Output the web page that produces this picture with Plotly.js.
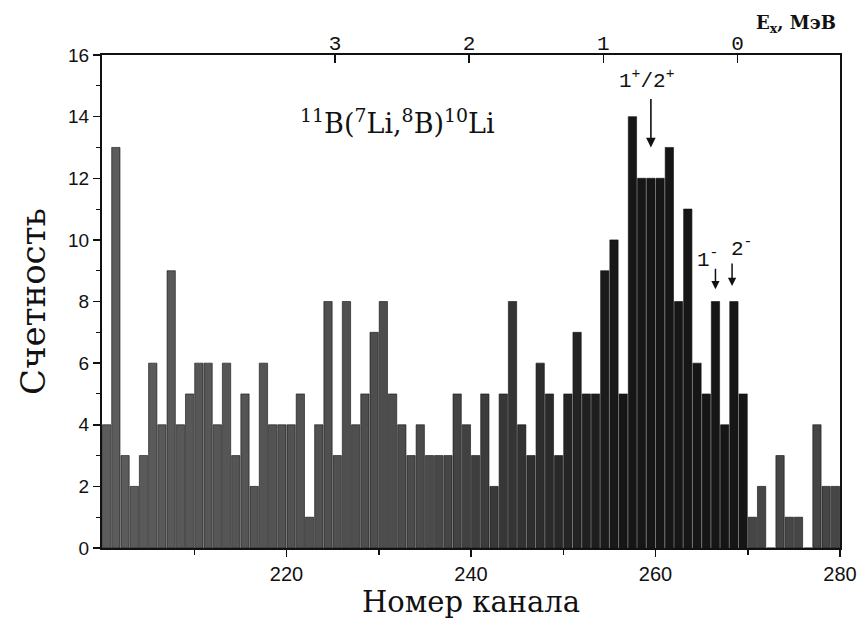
<!DOCTYPE html>
<html>
<head>
<meta charset="utf-8">
<script src="https://cdn.plot.ly/plotly-3.0.1.min.js"></script>
<style>html,body{margin:0;padding:0;background:#fff;}#chart{width:860px;height:629px;}</style>
</head>
<body>
<div id="chart"></div>
<script>
// Channel numbers (bin start) and counts
const channels = [];
for (let c = 200; c <= 279; c++) channels.push(c);
const counts = [
  4, 13, 3, 2, 3, 6, 4, 9, 4, 5,      // 200-209
  6, 6, 4, 6, 3, 5, 2, 6, 4, 4,       // 210-219
  4, 5, 1, 4, 8, 3, 8, 4, 5, 7,       // 220-229
  8, 5, 4, 3, 4, 3, 3, 3, 5, 4,       // 230-239
  3, 5, 2, 5, 8, 4, 3, 6, 5, 3,       // 240-249
  5, 7, 5, 5, 9, 10, 5, 14, 12, 12,   // 250-259
  12, 13, 8, 11, 6, 5, 8, 4, 8, 5,    // 260-269
  1, 2, 0, 3, 1, 1, 0, 4, 2, 2        // 270-279
];
const channelTicks = [220, 240, 260, 280];
const channelMinorTicks = [210, 230, 250, 270];
const energyTicks = [0, 1, 2, 3];
const countTicks = [0, 2, 4, 6, 8, 10, 12, 14, 16];

// energy axis calibration (channel at 0 MeV and channels per MeV)
const chAtZero = 268.9, chPerMeV = 14.55;
const eAt = ch => (chAtZero - ch) / chPerMeV;

// bar shading: grey on the left, near black in the peak, grey at the far right
function shade(c) {
  let g;
  if (c < 236) g = 92 - (c - 200) * 0.5;
  else if (c < 256) g = 72 - (c - 236) * 2.5;
  else if (c < 270) g = 22;
  else g = 70;
  g = Math.round(g);
  return `rgb(${g},${g},${g})`;
}

const barTrace = {
  type: 'bar',
  x: channels.map(c => c + 0.5),
  y: counts,
  width: 0.9,
  marker: { color: channels.map(shade), line: { color: '#111', width: 0.6 } },
  hoverinfo: 'x+y',
  showlegend: false
};

const energyTrace = {
  type: 'scatter', mode: 'markers',
  x: energyTicks, y: energyTicks.map(() => 0),
  xaxis: 'x2', yaxis: 'y',
  marker: { opacity: 0 }, hoverinfo: 'skip', showlegend: false
};

const serif = '"DejaVu Serif", "Liberation Serif", serif';
const sans = '"Liberation Sans", Arial, sans-serif';
const mono = '"Liberation Mono", "DejaVu Sans Mono", monospace';

const layout = {
  width: 860, height: 629,
  margin: { l: 102, r: 20, t: 55, b: 81 },
  paper_bgcolor: '#fff', plot_bgcolor: '#fff',
  bargap: 0,
  xaxis: {
    range: [200, 280],
    tickmode: 'array', tickvals: channelTicks,
    ticks: 'outside', ticklen: 7, tickwidth: 1.5, tickcolor: '#111',
    minor: { tickmode: 'array', tickvals: channelMinorTicks, ticks: 'outside', ticklen: 5, tickwidth: 1.5, tickcolor: '#111' },
    showline: true, linecolor: '#111', linewidth: 2, mirror: true,
    showgrid: false, zeroline: false,
    tickfont: { family: sans, size: 20, color: '#111' },
    title: { text: 'Номер канала', font: { family: serif, size: 29, color: '#111' }, standoff: 8 }
  },
  xaxis2: {
    overlaying: 'x', side: 'top',
    range: [eAt(200), eAt(280)],
    tickmode: 'array', tickvals: energyTicks,
    ticks: 'inside', ticklen: 8, tickwidth: 1.5, tickcolor: '#111',
    showline: false, showgrid: false, zeroline: false,
    tickfont: { family: mono, size: 21, color: '#111' }
  },
  yaxis: {
    range: [0, 16],
    tickmode: 'array', tickvals: countTicks,
    ticks: 'outside', ticklen: 7, tickwidth: 1.5, tickcolor: '#111',
    minor: { dtick: 1, ticks: 'outside', ticklen: 4, tickwidth: 1, tickcolor: '#111' },
    showline: true, linecolor: '#111', linewidth: 2, mirror: true,
    showgrid: false, zeroline: false,
    tickfont: { family: sans, size: 19, color: '#111' },
    title: { text: 'Счетность', font: { family: serif, size: 34, color: '#111' }, standoff: 12 }
  },
  annotations: [
    { xref: 'x', yref: 'y', x: 232.0, y: 13.85, showarrow: false,
      text: '<sup>11</sup>B(<sup>7</sup>Li,<sup>8</sup>B)<sup>10</sup>Li',
      font: { family: serif, size: 27, color: '#111' } },
    { xref: 'x', yref: 'y', x: 259.0, y: 15.2, showarrow: false,
      text: '1<sup>+</sup>/2<sup>+</sup>', font: { family: mono, size: 21, color: '#111' } },
    { xref: 'x', yref: 'y', x: 259.5, y: 13.0, text: '', showarrow: true,
      ax: 0, ay: -50, arrowhead: 2, arrowsize: 1.2, arrowwidth: 1.6, arrowcolor: '#111' },
    { xref: 'x', yref: 'y', x: 265.6, y: 9.4, showarrow: false,
      text: '1<sup>-</sup>', font: { family: mono, size: 21, color: '#111' } },
    { xref: 'x', yref: 'y', x: 269.3, y: 9.75, showarrow: false,
      text: '2<sup>-</sup>', font: { family: mono, size: 21, color: '#111' } },
    { xref: 'x', yref: 'y', x: 266.5, y: 8.4, text: '', showarrow: true,
      ax: 0, ay: -22, arrowhead: 2, arrowsize: 1.1, arrowwidth: 1.5, arrowcolor: '#111' },
    { xref: 'x', yref: 'y', x: 268.3, y: 8.5, text: '', showarrow: true,
      ax: 0, ay: -24, arrowhead: 2, arrowsize: 1.1, arrowwidth: 1.5, arrowcolor: '#111' },
    { xref: 'paper', yref: 'paper', x: 0.997, y: 1.035, xanchor: 'right', yanchor: 'bottom', showarrow: false,
      text: '<b>E<sub>x</sub>, МэВ</b>', font: { family: serif, size: 18, color: '#111' } }
  ]
};

Plotly.newPlot('chart', [barTrace, energyTrace], layout, { displayModeBar: false, staticPlot: true });
</script>
</body>
</html>
